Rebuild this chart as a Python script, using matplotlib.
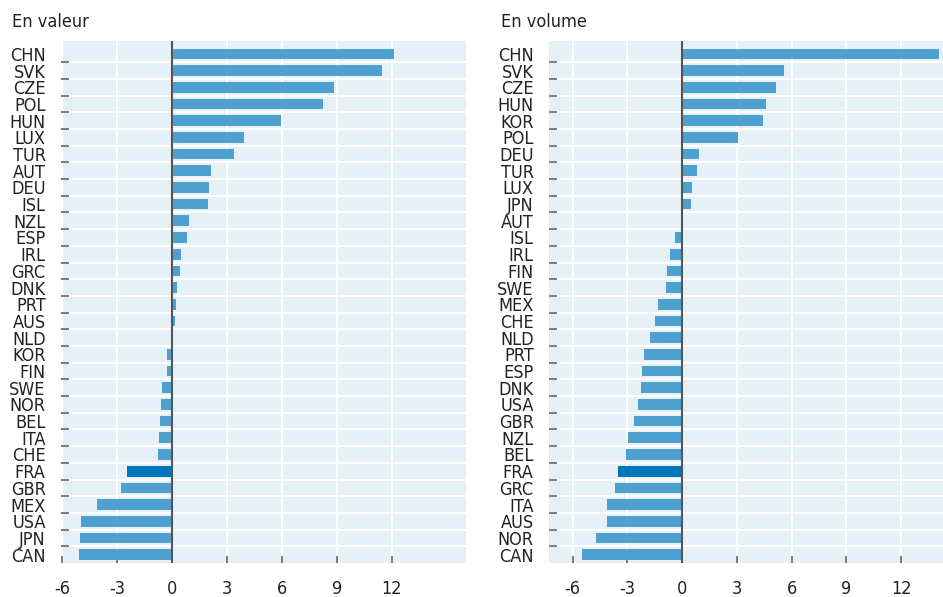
import numpy as np
import matplotlib.pyplot as plt

plt.rcParams['font.family'] = ['Liberation Sans Narrow', 'DejaVu Sans', 'Roboto']
plt.rcParams['font.stretch'] = 'condensed'

# Data: en valeur
val_countries = ['CHN', 'SVK', 'CZE', 'POL', 'HUN', 'LUX', 'TUR', 'AUT', 'DEU', 'ISL',
                 'NZL', 'ESP', 'IRL', 'GRC', 'DNK', 'PRT', 'AUS', 'NLD', 'KOR', 'FIN',
                 'SWE', 'NOR', 'BEL', 'ITA', 'CHE', 'FRA', 'GBR', 'MEX', 'USA', 'JPN', 'CAN']
val_values = [12.13, 11.49, 8.87, 8.22, 5.95, 3.93, 3.38, 2.14, 2.0, 1.98,
              0.91, 0.82, 0.49, 0.45, 0.27, 0.24, 0.16, 0.07, -0.24, -0.27,
              -0.53, -0.58, -0.64, -0.68, -0.75, -2.45, -2.75, -4.09, -4.95, -5.0, -5.09]

# Data: en volume
vol_countries = ['CHN', 'SVK', 'CZE', 'HUN', 'KOR', 'POL', 'DEU', 'TUR', 'LUX', 'JPN',
                 'AUT', 'ISL', 'IRL', 'FIN', 'SWE', 'MEX', 'CHE', 'NLD', 'PRT', 'ESP',
                 'DNK', 'USA', 'GBR', 'NZL', 'BEL', 'FRA', 'GRC', 'ITA', 'AUS', 'NOR', 'CAN']
vol_values = [14.1, 5.6, 5.16, 4.61, 4.45, 3.07, 0.93, 0.82, 0.55, 0.49,
              0.05, -0.38, -0.66, -0.82, -0.88, -1.32, -1.48, -1.76, -2.09, -2.2,
              -2.25, -2.42, -2.64, -2.97, -3.08, -3.52, -3.68, -4.12, -4.12, -4.72, -5.49]

xticks = [-6, -3, 0, 3, 6, 9, 12]

bg = '#e6f0f7'
bar_col = '#4ea1cf'
hl_col = '#0077bb'
fs = 13

fig = plt.figure(figsize=(9.43, 5.97), dpi=100)


def panel(rect, countries, values, xlim, title, title_x):
    ax = fig.add_axes(rect)
    ax.set_facecolor(bg)
    n = len(countries)
    y = np.arange(n)
    colors = [hl_col if c == 'FRA' else bar_col for c in countries]
    ax.barh(y, values, height=0.64, color=colors, zorder=3)
    ax.axvline(0, color='#555555', lw=1.5, zorder=4)
    ax.set_xlim(*xlim)
    ax.set_ylim(n - 0.5, -0.77)
    ax.set_yticks(y)
    ax.set_yticklabels(countries, fontsize=fs, color='#222222')
    ax.set_yticks(np.arange(n - 1) + 0.5, minor=True)
    ax.tick_params(axis='y', which='major', length=0, pad=11)
    ax.tick_params(axis='y', which='minor', direction='in', length=5.5, width=1.2, color='#666666')
    ax.set_xticks(xticks)
    ax.set_xticklabels([str(t) for t in xticks], fontsize=fs, color='#222222')
    ax.tick_params(axis='x', direction='in', length=5, width=1.2, color='#666666', pad=12)
    ax.grid(axis='x', which='major', color='white', lw=1.5, zorder=1)
    ax.grid(axis='y', which='minor', color='white', lw=1.5, zorder=1)
    for s in ax.spines.values():
        s.set_visible(False)
    fig.text(title_x, 1 - 22 / 597, title, fontsize=fs, color='#222222', va='center', ha='left')
    return ax


panel([61 / 943, 34 / 597, 405 / 943, 522 / 597], val_countries, val_values,
      (-6.05, 16.05), 'En valeur', 12 / 943)
panel([549 / 943, 34 / 597, 394 / 943, 522 / 597], vol_countries, vol_values,
      (-7.3, 14.3), 'En volume', 501 / 943)

fig.savefig('out.png', dpi=100)
